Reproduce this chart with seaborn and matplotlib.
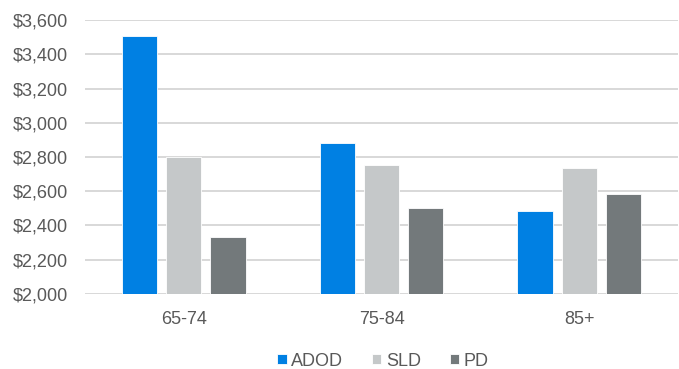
import matplotlib
matplotlib.use("Agg")
import matplotlib.pyplot as plt
import matplotlib.ticker as mticker
import seaborn as sns
import pandas as pd

age_groups = ["65-74", "75-84", "85+"]
adod = [3505, 2882, 2484]
sld = [2802, 2755, 2736]
pd_cost = [2332, 2505, 2583]
series_names = ["ADOD", "SLD", "PD"]
colors = ["#0080E3", "#C5C8C9", "#73797B"]

df = pd.DataFrame({
    "age": age_groups * 3,
    "group": [s for s in series_names for _ in age_groups],
    "cost": adod + sld + pd_cost,
})

sns.set_theme(style="white")
plt.rcParams["font.family"] = ["Liberation Sans", "DejaVu Sans"]

fig = plt.figure(figsize=(6.79, 3.69), dpi=100)
ax = fig.add_axes([85 / 679, 1 - 294 / 369, 593 / 679, 274 / 369])

sns.barplot(data=df, x="age", y="cost", hue="group", order=age_groups,
            hue_order=series_names, palette=colors, width=0.67, gap=0.2,
            saturation=1, edgecolor="white", linewidth=0.6, ax=ax, legend=True)

ax.set_ylim(2000, 3600)
ax.set_xlim(-0.5, 2.5)
ax.yaxis.set_major_locator(mticker.MultipleLocator(200))
ax.yaxis.set_major_formatter(mticker.FuncFormatter(lambda v, p: f"${v:,.0f}"))
ax.grid(axis="y", color="#D6D6D6", linewidth=1.3)
ax.set_axisbelow(True)
for s in ax.spines.values():
    s.set_visible(False)
ax.set_xlabel("")
ax.set_ylabel("")
ax.tick_params(axis="both", length=0, labelsize=13, labelcolor="#595959")
ax.tick_params(axis="x", pad=12.5)
ax.tick_params(axis="y", pad=12)

ax.legend(loc="center", bbox_to_anchor=(383 / 679, 1 - 361 / 369),
          bbox_transform=fig.transFigure, ncol=3, frameon=False, fontsize=13,
          handlelength=0.52, handleheight=0.52, handletextpad=0.25,
          columnspacing=1.6, labelcolor="#595959", borderaxespad=0,
          borderpad=0)

fig.savefig("out.png", dpi=100)
